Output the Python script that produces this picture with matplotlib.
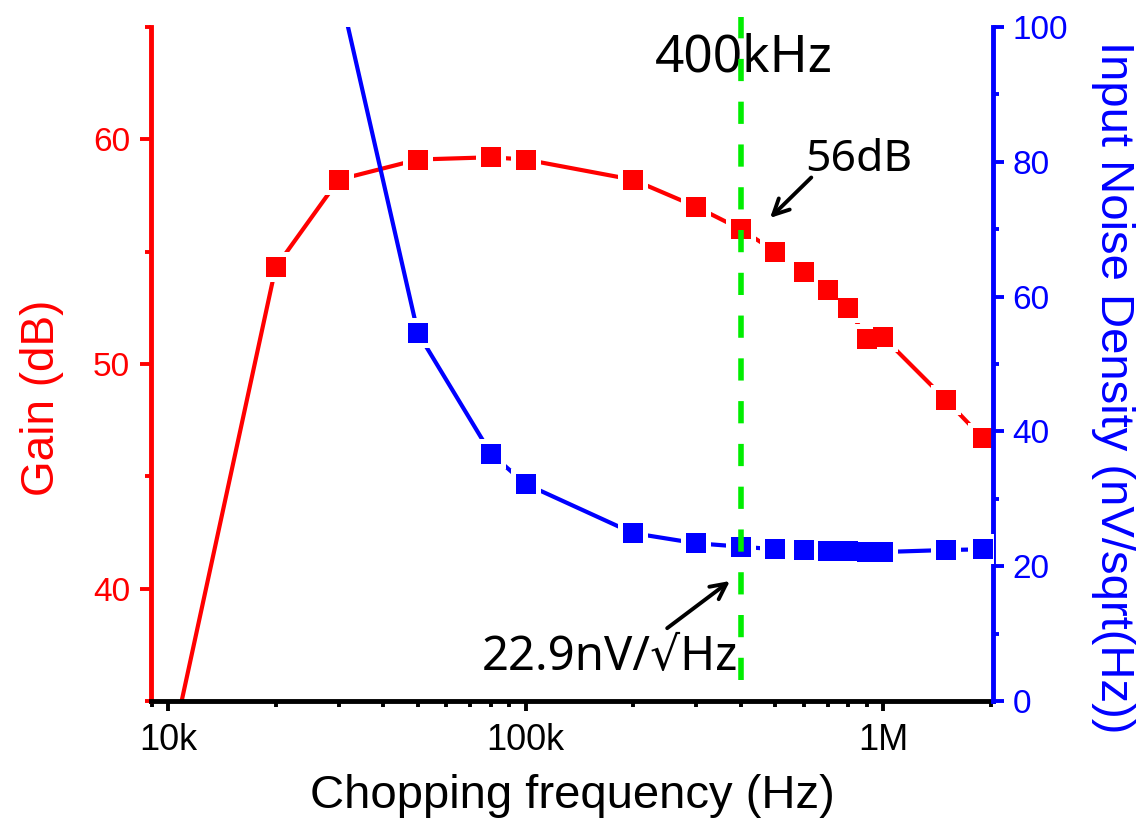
import matplotlib
matplotlib.use("Agg")
import matplotlib.pyplot as plt
from matplotlib.ticker import MultipleLocator, LogLocator, NullFormatter

plt.rcParams['font.family'] = ['Liberation Sans', 'DejaVu Sans']

# gain vs chopping frequency
freq_gain = [10e3, 20e3, 30e3, 50e3, 80e3, 100e3, 200e3, 300e3, 400e3, 500e3,
             600e3, 700e3, 800e3, 900e3, 1e6, 1.5e6, 1.9e6]
gain = [32.2, 54.3, 58.2, 59.1, 59.2, 59.1, 58.2, 57.0, 56.0, 55.0,
        54.1, 53.3, 52.5, 51.1, 51.2, 48.4, 46.7]

# input referred noise density
freq_noise = [20e3, 50e3, 80e3, 100e3, 200e3, 300e3, 400e3, 500e3,
              600e3, 700e3, 800e3, 900e3, 1e6, 1.5e6, 1.9e6]
noise = [147, 54.6, 36.7, 32.2, 24.9, 23.4, 22.9, 22.5,
         22.4, 22.3, 22.3, 22.1, 22.1, 22.4, 22.5]

chop_freq = 400e3
gain_at_chop = gain[freq_gain.index(chop_freq)]
noise_at_chop = noise[freq_noise.index(chop_freq)]

xticks = [1e4, 1e5, 1e6]
xticklabels = ['10k', '100k', '1M']

RED = '#ff0000'
BLUE = '#0000ff'
GREEN = '#00ee00'

fig = plt.figure(figsize=(11.42, 8.35), dpi=100)
ax = fig.add_axes([0.1322, 0.1605, 0.7373, 0.8072])
ax2 = ax.twinx()


def draw_series(a, x, y, color):
    a.plot(x, y, '-', color=color, lw=3, solid_capstyle='round', zorder=2)
    # white square under each marker leaves a small gap in the line
    a.plot(x, y, 's', color='white', ms=21, mew=0, zorder=3)
    a.plot(x, y, 's', color=color, ms=14.5, mew=0, zorder=4)


draw_series(ax, freq_gain, gain, RED)
draw_series(ax2, freq_noise, noise, BLUE)

ax.set_xscale('log')
ax.set_xlim(8.96e3, 2.03e6)
ax.set_ylim(35, 65)
ax2.set_ylim(0, 100)

ax.set_xticks(xticks)
ax.set_xticklabels(xticklabels)
ax.xaxis.set_minor_locator(LogLocator(base=10, subs=range(2, 10)))
ax.xaxis.set_minor_formatter(NullFormatter())
ax.yaxis.set_major_locator(MultipleLocator(10))
ax.yaxis.set_minor_locator(MultipleLocator(5))
ax2.yaxis.set_major_locator(MultipleLocator(20))
ax2.yaxis.set_minor_locator(MultipleLocator(10))

for s in ['top', 'right']:
    ax.spines[s].set_visible(False)
for s in ['top', 'left', 'bottom']:
    ax2.spines[s].set_visible(False)
ax.spines['left'].set_color(RED)
ax.spines['left'].set_linewidth(3.5)
ax.spines['bottom'].set_color('black')
ax.spines['bottom'].set_linewidth(3.5)
ax2.spines['right'].set_color(BLUE)
ax2.spines['right'].set_linewidth(3.5)

ax.tick_params(axis='x', which='major', direction='out', length=7.5, width=2.8,
               labelsize=26, pad=8, colors='black')
ax.tick_params(axis='x', which='minor', direction='out', length=4.5, width=2.8)
ax.tick_params(axis='y', which='major', direction='out', length=8, width=2.8,
               labelsize=24, pad=7, colors=RED)
ax.tick_params(axis='y', which='minor', direction='out', length=4.5, width=2.8,
               colors=RED)
ax2.tick_params(axis='y', which='major', direction='out', length=8, width=2.8,
                labelsize=24, pad=6, colors=BLUE)
ax2.tick_params(axis='y', which='minor', direction='out', length=4.5, width=2.8,
                colors=BLUE)

ax.set_xlabel('Chopping frequency (Hz)', fontsize=34, labelpad=12)
ax.set_ylabel('Gain (dB)', fontsize=33, color=RED)
ax.yaxis.set_label_coords(-0.103, 0.45)
ax2.set_ylabel('Input Noise Density (nV/sqrt(Hz))', fontsize=34, color=BLUE,
               rotation=270, va='bottom')
ax2.yaxis.set_label_coords(1.117, 0.466)

# chopping frequency marker
ax2.axvline(chop_freq, ymin=0.031, ymax=1.015, color=GREEN, lw=4,
            dashes=(4, 3.7), clip_on=False, zorder=6)

ann_font = ['Noto Sans', 'DejaVu Sans']
ax.text(2.3e5, 63.0, '400kHz', fontsize=37, family=ann_font, va='baseline')
ax.text(6.05e5, 58.6, '%gdB' % gain_at_chop, fontsize=32, family=ann_font,
        va='baseline')
ax.annotate('', xy=(4.83e5, 56.5), xytext=(6.3e5, 58.3),
            arrowprops=dict(arrowstyle='->', lw=2.8, color='black',
                            mutation_scale=28, shrinkA=0, shrinkB=0))
ax2.text(7.55e4, 4.6, '%gnV/\u221aHz' % noise_at_chop, fontsize=34,
         family=ann_font, va='baseline')
ax2.annotate('', xy=(3.73e5, 17.8), xytext=(2.49e5, 10.8),
             arrowprops=dict(arrowstyle='->', lw=2.8, color='black',
                             mutation_scale=28, shrinkA=0, shrinkB=0))

fig.savefig('out.png', dpi=100)
